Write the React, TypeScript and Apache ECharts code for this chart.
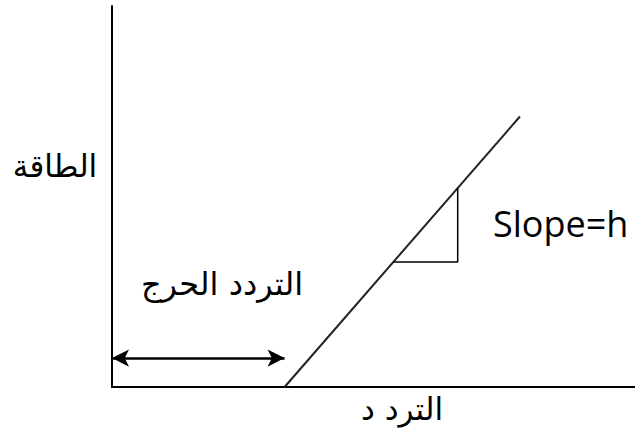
import React, { useEffect, useRef } from "react";
import * as echarts from "echarts";

// Photoelectric effect sketch: energy vs frequency
const lineX = [3.3, 7.8];
const lineY = [0, 7.1];
const triX = [5.38, 6.61, 6.61];
const triY = [3.28, 3.28, 5.23];
const arrowX = [0, 3.3];
const arrowY = [0.76, 0.76];
const axisRange = [0, 10];
const energyLabel = "الطاقة";
const freqLabel = "الترد د";
const criticalLabel = "التردد الحرج";
const slopeLabel = "Slope=h";

export default function App() {
  const ref = useRef<HTMLDivElement>(null);
  useEffect(() => {
    if (!ref.current) return;
    const chart = echarts.init(ref.current, null, { renderer: "svg" });
    const arabicFont = "'DejaVu Sans', sans-serif";
    chart.setOption({
      animation: false,
      backgroundColor: "#fff",
      grid: { left: 112, right: 0, top: 6, bottom: 43 },
      xAxis: {
        type: "value",
        min: axisRange[0],
        max: axisRange[1],
        axisLine: { show: true, lineStyle: { color: "#000", width: 2 } },
        axisTick: { show: false },
        axisLabel: { show: false },
        splitLine: { show: false },
      },
      yAxis: {
        type: "value",
        min: axisRange[0],
        max: axisRange[1],
        axisLine: { show: true, lineStyle: { color: "#000", width: 2 } },
        axisTick: { show: false },
        axisLabel: { show: false },
        splitLine: { show: false },
      },
      series: [
        {
          type: "line",
          data: lineX.map((x, i) => [x, lineY[i]]),
          symbol: "none",
          lineStyle: { color: "#222", width: 2 },
          silent: true,
        },
        {
          type: "line",
          data: triX.map((x, i) => [x, triY[i]]),
          symbol: "none",
          lineStyle: { color: "#000", width: 1.5 },
          silent: true,
        },
        {
          type: "line",
          data: arrowX.map((x, i) => [x, arrowY[i]]),
          symbol: "none",
          lineStyle: { opacity: 0 },
          silent: true,
          markLine: {
            silent: true,
            symbol: ["arrow", "arrow"],
            symbolSize: [13, 17],
            label: { show: false },
            lineStyle: { color: "#000", width: 2.5, type: "solid" },
            data: [
              [
                { coord: [arrowX[0], arrowY[0]] },
                { coord: [arrowX[1], arrowY[1]] },
              ],
            ],
          },
        },
      ],
      graphic: [
        {
          type: "text",
          x: 55,
          y: 166,
          style: {
            text: energyLabel,
            fontSize: 31,
            fontFamily: arabicFont,
            fill: "#000",
            align: "center",
            verticalAlign: "middle",
          },
        },
        {
          type: "text",
          x: 222,
          y: 284,
          style: {
            text: criticalLabel,
            fontSize: 32,
            fontFamily: arabicFont,
            fill: "#000",
            align: "center",
            verticalAlign: "middle",
          },
        },
        {
          type: "text",
          x: 402,
          y: 409,
          style: {
            text: freqLabel,
            fontSize: 31,
            fontFamily: arabicFont,
            fill: "#000",
            align: "center",
            verticalAlign: "middle",
          },
        },
        {
          type: "text",
          x: 493,
          y: 223,
          style: {
            text: slopeLabel,
            fontSize: 36,
            fontFamily: "'Open Sans', sans-serif",
            fill: "#000",
            align: "left",
            verticalAlign: "middle",
          },
        },
      ],
    });
    return () => chart.dispose();
  }, []);
  return (
    <div
      ref={ref}
      style={{ position: "absolute", left: 0, top: 0, width: 635, height: 430 }}
    />
  );
}
